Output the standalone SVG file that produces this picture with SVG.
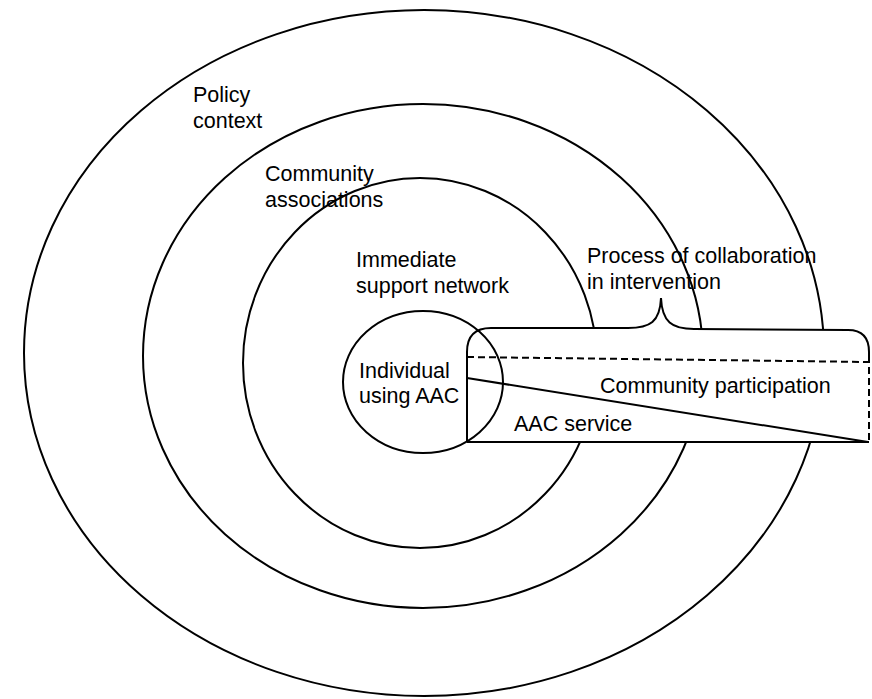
<svg xmlns="http://www.w3.org/2000/svg" width="872" height="699" viewBox="0 0 872 699">
  <style>
    .ring { fill: none; stroke: #000; stroke-width: 2; }
    .line { fill: none; stroke: #000; stroke-width: 2; }
    .dash { fill: none; stroke: #000; stroke-width: 2; stroke-dasharray: 7 4; }
    .label { font-family: "Liberation Sans", Arial, sans-serif; font-size: 21.5px; fill: #000; }
  </style>
  <rect width="872" height="699" fill="#fff"/>

  <!-- concentric contexts -->
  <g id="policy-context">
    <ellipse class="ring" cx="424" cy="353" rx="400" ry="343"/>
    <text class="label" x="193" y="102">Policy</text>
    <text class="label" x="193" y="128">context</text>
  </g>
  <g id="community-associations">
    <ellipse class="ring" cx="423" cy="356" rx="280" ry="252"/>
    <text class="label" x="265" y="181">Community</text>
    <text class="label" x="265" y="207">associations</text>
  </g>
  <g id="immediate-support-network">
    <ellipse class="ring" cx="420" cy="363" rx="177" ry="185"/>
    <text class="label" x="356" y="267">Immediate</text>
    <text class="label" x="356" y="293">support network</text>
  </g>

  <!-- collaboration band cutting across the rings -->
  <g id="collaboration-band">
    <path fill="#fff" d="M467 442 L467 352 Q467 328 491 328 L628 328 C650 328 660 322 661 298 C662 322 672 329 694 329 L848 330 Q869 330 869 352 L869 442 Z"/>
    <path class="line" d="M467 442 L467 352 Q467 328 491 328 L628 328 C650 328 660 322 661 298 C662 322 672 329 694 329 L848 330 Q869 330 869 352 L869 362"/>
    <path class="line" d="M467 442 L869 442"/>
    <text class="label" x="587" y="263">Process of collaboration</text>
    <text class="label" x="587" y="289">in intervention</text>
  </g>

  <g id="community-participation">
    <text class="label" x="600" y="393">Community participation</text>
  </g>
  <g id="aac-service">
    <text class="label" x="514" y="431">AAC service</text>
  </g>

  <g id="individual-using-aac">
    <ellipse class="ring" cx="423" cy="382" rx="80" ry="71"/>
    <text class="label" x="359" y="378">Individual</text>
    <text class="label" x="359" y="403">using AAC</text>
  </g>

  <!-- dividing lines inside the band -->
  <g id="connectors">
    <path class="dash" d="M467 357 L869 362 L869 442"/>
    <path class="line" d="M467 378 L868 442"/>
  </g>
</svg>
